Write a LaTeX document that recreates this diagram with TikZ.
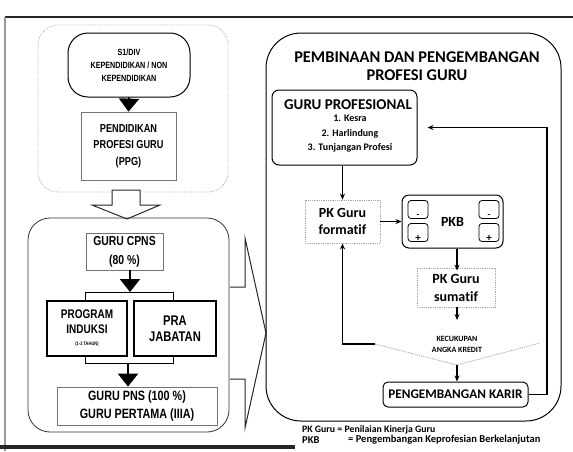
\documentclass[tikz,border=0pt]{standalone}
\usepackage{fontspec}
\setmainfont{Carlito}[Ligatures=NoCommon]
\newfontfamily\nar{Liberation Sans}[FakeStretch=0.8]
\usetikzlibrary{arrows.meta}
\tikzset{
  lbox/.style={draw=black!55, line width=0.8pt, inner sep=0pt, align=center},
  fat/.style={-{Triangle[width=20pt,length=13pt]}, line width=2pt, black},
  arr/.style={-{Stealth[length=6pt,width=5pt]}, line width=1.3pt, black},
  rbox/.style={draw=black, line width=1pt, rounded corners=7pt, inner sep=0pt, align=center, font=\bfseries},
  faint/.style={draw=black!35, densely dotted, line width=0.8pt, inner sep=0pt, align=center},
  mini/.style={draw=black, line width=0.8pt, rounded corners=3pt, minimum width=20pt, minimum height=18pt, inner sep=0pt},
  hollow/.style={draw=black!85, line width=1pt, fill=white},
  legend/.style={anchor=west, inner sep=0pt}
}
\begin{document}
\begin{tikzpicture}[x=1pt,y=-1pt]
\useasboundingbox (0,0) rectangle (573,451);
% outer frame
\draw[black!85, line width=1.6pt] (5,17) -- (573,17);
\draw[black!40, line width=2pt] (5,17) -- (5,451);
\draw[black!85, line width=4pt] (0,447) -- (295,447);

% top-left container
\draw[black!30, densely dotted, line width=0.8pt, rounded corners=20pt] (38,25) rectangle (228,192);

\node[lbox, draw=black, line width=1pt, rounded corners=20pt, minimum width=122pt, minimum height=64pt, font=\nar\bfseries\fontsize{9}{13}\selectfont] (s1) at (129,65) {S1/DIV\\KEPENDIDIKAN / NON\\KEPENDIDIKAN};
\node[lbox, minimum width=95pt, minimum height=68pt, font=\nar\bfseries\fontsize{11.5}{16.5}\selectfont] (ppg) at (128.5,146) {PENDIDIKAN\\PROFESI GURU\\(PPG)};
\draw[fat] (s1.south) -- (ppg.north);

% hollow down arrow
\draw[hollow] (112,190) -- (140,190) -- (140,205) -- (160,205) -- (127,219) -- (92,205) -- (112,205) -- cycle;

% lower-left container
\draw[black!80, line width=0.8pt, rounded corners=22pt] (28,218) rectangle (229,432);

\node[lbox, minimum width=77pt, minimum height=37pt, font=\nar\bfseries\fontsize{13}{19}\selectfont] (cpns) at (124.5,251.5) {GURU CPNS\\(80 \%)};
\node[lbox, draw=black, line width=1.8pt, minimum width=80pt, minimum height=55pt, font=\nar\bfseries\fontsize{12.5}{15}\selectfont] (pi) at (87,328.5) {PROGRAM\\INDUKSI\\[-3pt]{\fontsize{5}{6}\selectfont (1-2 TAHUN)}};
\node[lbox, draw=black, line width=1.8pt, minimum width=82pt, minimum height=55pt, font=\nar\bfseries\fontsize{14}{15.5}\selectfont] (pj) at (175,328.5) {PRA\\JABATAN};
\node[lbox, minimum width=160pt, minimum height=38pt, font=\nar\bfseries\fontsize{13.5}{18}\selectfont] (pns) at (137,406) {GURU PNS (100 \%)\\GURU PERTAMA (IIIA)};

\coordinate (bt) at (130,292);
\coordinate (bb) at (128,363);
\draw[black, line width=0.9pt] (85,301) -- (85,292) -- (173,292) -- (173,301);
\draw[black, line width=0.9pt] (85,356) -- (85,363) -- (173,363) -- (173,356);
\draw[fat] (cpns.south -| bt) -- (bt);
\draw[fat] (bb) -- (pns.north -| bb);

% hollow right arrow
\draw[hollow] (230,287) -- (245,287) -- (245,238) -- (266,333) -- (245,428) -- (245,379) -- (230,379);

% right container
\draw[black, line width=1pt, rounded corners=35pt] (266,33) rectangle (561,421);
\node[font=\bfseries\fontsize{16.4}{18}\selectfont, align=center] (title) at (417,66) {PEMBINAAN DAN PENGEMBANGAN\\PROFESI GURU};

\node[rbox, minimum width=145pt, minimum height=75pt] (gp) at (344.5,127.5) {};
\node[font=\bfseries\fontsize{15}{15}\selectfont] (gpt) at (348,105) {GURU PROFESIONAL};
\node[font=\bfseries\fontsize{10}{14.5}\selectfont, align=center] (gpl) at (350,134) {1. Kesra\\2. Harlindung\\3. Tunjangan Profesi};

\node[faint, minimum width=75pt, minimum height=43pt, font=\bfseries\fontsize{14}{17}\selectfont] (form) at (342.5,221.5) {PK Guru\\formatif};
\node[rbox, minimum width=101pt, minimum height=53pt, font=\bfseries\fontsize{14}{15}\selectfont] (pkb) at (452.5,221.5) {PKB};
\node[mini] (m1) at (418,209.5) {};
\node[mini] (p1) at (418,232.5) {};
\node[mini] (m2) at (489,209.5) {};
\node[mini] (p2) at (489,232.5) {};
\node[font=\bfseries\fontsize{9}{9}\selectfont, anchor=south, inner sep=1pt] (m1t) at (m1.south) {-};
\node[font=\bfseries\fontsize{11}{11}\selectfont, anchor=south, inner sep=0pt] (p1t) at (p1.south) {+};
\node[font=\bfseries\fontsize{9}{9}\selectfont, anchor=south, inner sep=1pt] (m2t) at (m2.south) {-};
\node[font=\bfseries\fontsize{11}{11}\selectfont, anchor=south, inner sep=0pt] (p2t) at (p2.south) {+};

\node[faint, minimum width=78pt, minimum height=39pt, font=\bfseries\fontsize{14}{18}\selectfont] (sum) at (456,287.5) {PK Guru\\sumatif};

\coordinate (kl) at (375,344);
\coordinate (kb) at (457,365);
\coordinate (kr) at (540,343);
\coordinate (ktop) at (457,320);
\draw[black!35, densely dotted, line width=0.9pt] (kl) -- (kb) -- (kr);
\node[font=\bfseries\fontsize{8}{11}\selectfont, align=center] (kred) at (457,344.5) {KECUKUPAN\\ANGKA KREDIT};

\node[rbox, rounded corners=5pt, minimum width=145pt, minimum height=25pt, font=\bfseries\fontsize{13.2}{14}\selectfont] (karir) at (455.5,394.5) {PENGEMBANGAN KARIR};

\draw[arr] (form.north |- gp.south) -- (form.north);
\draw[arr] (form.east) -- (pkb.west);
\draw[arr] (pkb.south -| kb) -- ([yshift=-3pt]sum.north -| kb);
\draw[arr] (sum.south -| kb) -- (ktop);
\draw[arr] (kb) -- (karir.north -| kb);
\draw[arr] (kl) -- (form.south |- kl) -- (form.south);
\draw[arr] (karir.east) -- (547,394.5) -- (547,127.5) -- ([xshift=10pt]gp.east);

% legend
\node[legend, font=\bfseries\fontsize{9.8}{10}\selectfont] (l1) at (302,430) {PK Guru = Penilaian Kinerja Guru};
\node[legend, font=\bfseries\fontsize{10.5}{10}\selectfont] (l2) at (302,440) {PKB};
\node[legend, font=\bfseries\fontsize{10.5}{10}\selectfont] (l2b) at (348,440) {= Pengembangan Keprofesian Berkelanjutan};
\end{tikzpicture}
\end{document}
